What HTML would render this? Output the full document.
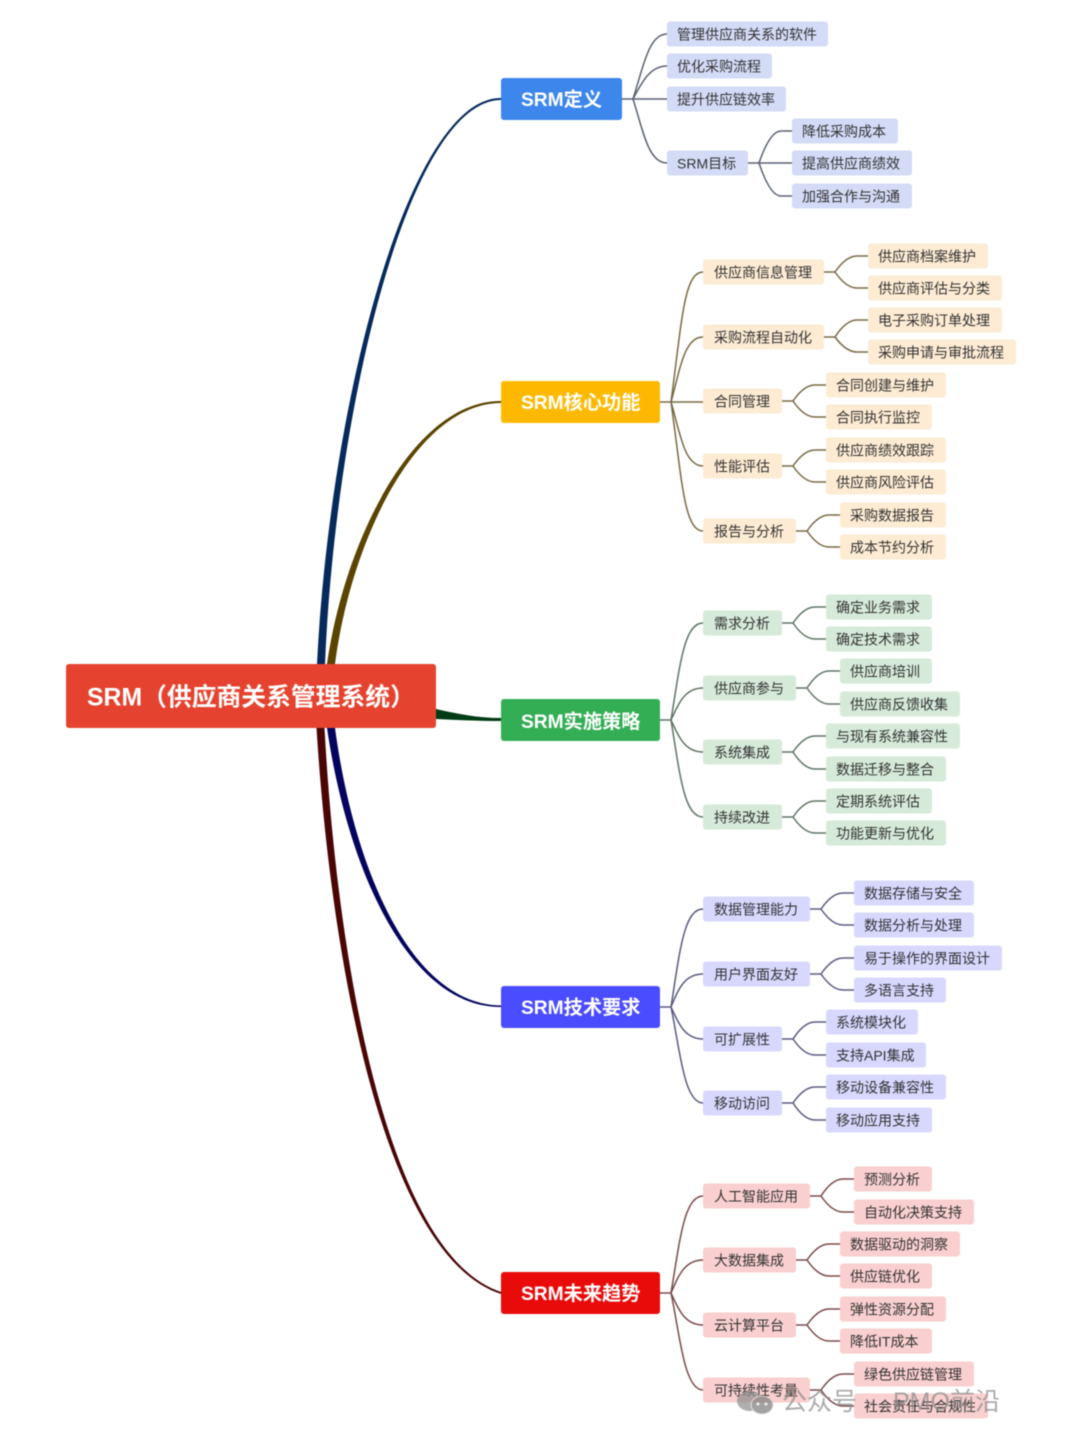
<!DOCTYPE html>
<html lang="zh">
<head>
<meta charset="utf-8">
<title>SRM（供应商关系管理系统）</title>
<style>
html,body{margin:0;padding:0;background:#fff;width:1080px;height:1440px;overflow:hidden}
svg{display:block;filter:blur(.45px)}
text{font-family:"Liberation Sans","Noto Sans CJK SC",sans-serif;font-size:14px;fill:#333}
g[fill] text{transform:translateY(.6px)}
g[fill] text[x="837"],g[fill] text[x="851"],g[fill] text[x="865"],g[fill] text[x="879"]{transform:translate(-1px,.6px)}
.m text{font-size:19.2px;font-weight:700;fill:#fff}
.l{fill:none;stroke-width:1.5}
</style>
</head>
<body>
<svg width="1080" height="1440" viewBox="0 0 1080 1440" xmlns="http://www.w3.org/2000/svg">
<rect width="1080" height="1440" fill="#fff"/>

<!-- main connectors -->
<path fill="#062a5c" d="M317 664C330 399.500 409.500 97.500 501 98L501 100C410.500 100.500 336 400.500 325 664Z"/>
<path fill="#5a4400" d="M327 664C345 539 414 400.500 501 401L501 403C416 403.500 351 541 335 664Z"/>
<path fill="#013c14" d="M436 709C458 714 478 718 501 718L501 721C478 721 458 720 436 719Z"/>
<path fill="#04045e" d="M335 728C354 869 411 1004.500 501 1005.500L501 1007C409 1007.500 348 871 327 728Z"/>
<path fill="#4a0505" d="M324.500 728C337 959.500 386.500 1254 501 1292L501 1294C383.500 1256 331 960.500 316.500 728Z"/>

<!-- branch 1 connectors -->
<g class="l" stroke="#5a6272">
<path d="M622 99H667"/>
<path d="M633 99C645 60 650 34 667 34"/>
<path d="M633 99C642 82 650 66 667 66"/>
<path d="M633 99C643 130 648 163 667 163"/>
<path d="M748 163H792"/>
<path d="M759 163Q770 131 781 131H792"/>
<path d="M759 163Q770 196 781 196H792"/>
</g>
<!-- branch 2 connectors -->
<g class="l" stroke="#7a6a45">
<path d="M660 402H703"/>
<path d="M671 402C682 320 684 272 703 272"/>
<path d="M671 402C680 370 684 337 703 337"/>
<path d="M671 402C680 432 684 466 703 466"/>
<path d="M671 402C682 480 684 531 703 531"/>
<path d="M824 272H835Q846 256 857 256H868"/>
<path d="M835 272Q846 288 857 288H868"/>
<path d="M824 337H835Q846 320 857 320H868"/>
<path d="M835 337Q846 352 857 352H868"/>
<path d="M782 401H793Q804 385 815 385H826"/>
<path d="M793 401Q804 417 815 417H826"/>
<path d="M782 466H793Q804 450 815 450H826"/>
<path d="M793 466Q804 482 815 482H826"/>
<path d="M796 531H807Q818 515 829 515H840"/>
<path d="M807 531Q818 547 829 547H840"/>
</g>
<!-- branch 3 connectors -->
<g class="l" stroke="#5f7565">
<path d="M660 720H671"/>
<path d="M671 720C680 665 684 623 703 623"/>
<path d="M671 720C678 705 684 688 703 688"/>
<path d="M671 720C678 735 684 752 703 752"/>
<path d="M671 720C680 775 684 817 703 817"/>
<path d="M782 623H793Q804 607 815 607H826"/>
<path d="M793 623Q804 639 815 639H826"/>
<path d="M796 688H807Q818 671 829 671H840"/>
<path d="M807 688Q818 704 829 704H840"/>
<path d="M782 752H793Q804 736 815 736H826"/>
<path d="M793 752Q804 769 815 769H826"/>
<path d="M782 817H793Q804 801 815 801H826"/>
<path d="M793 817Q804 833 815 833H826"/>
</g>
<!-- branch 4 connectors -->
<g class="l" stroke="#5a5a80">
<path d="M660 1007H671"/>
<path d="M671 1007C680 950 684 909 703 909"/>
<path d="M671 1007C678 990 684 974 703 974"/>
<path d="M671 1007C678 1022 684 1039 703 1039"/>
<path d="M671 1007C680 1050 684 1103 703 1103"/>
<path d="M810 909H821Q832 893 843 893H854"/>
<path d="M821 909Q832 925 843 925H854"/>
<path d="M810 974H821Q832 958 843 958H854"/>
<path d="M821 974Q832 990 843 990H854"/>
<path d="M782 1039H793Q804 1022 815 1022H826"/>
<path d="M793 1039Q804 1055 815 1055H826"/>
<path d="M782 1103H793Q804 1087 815 1087H826"/>
<path d="M793 1103Q804 1120 815 1120H826"/>
</g>
<!-- branch 5 connectors -->
<g class="l" stroke="#7a4a4a">
<path d="M660 1293H671"/>
<path d="M671 1293C680 1240 684 1196 703 1196"/>
<path d="M671 1293C678 1277 684 1260 703 1260"/>
<path d="M671 1293C678 1308 684 1325 703 1325"/>
<path d="M671 1293C680 1335 684 1390 703 1390"/>
<path d="M810 1196H821Q832 1179 843 1179H854"/>
<path d="M821 1196Q832 1212 843 1212H854"/>
<path d="M796 1260H807Q818 1244 829 1244H840"/>
<path d="M807 1260Q818 1276 829 1276H840"/>
<path d="M796 1325H807Q818 1309 829 1309H840"/>
<path d="M807 1325Q818 1341 829 1341H840"/>
<path d="M810 1390H821Q832 1374 843 1374H854"/>
<path d="M821 1390Q832 1406 843 1406H854"/>
</g>

<!-- root -->
<rect x="66" y="664" width="370" height="64" rx="3" fill="#e5432f"/>
<text x="87" y="705.500" style="font-size:24.800px;font-weight:700;fill:#fff">SRM（供应商关系管理系统）</text>

<!-- main nodes -->
<g class="m">
<rect x="501" y="78" width="121" height="42" rx="3" fill="#3d86ec"/><text x="521" y="106">SRM定义</text>
<rect x="501" y="381" width="159" height="42" rx="3" fill="#fdb902"/><text x="521" y="409">SRM核心功能</text>
<rect x="501" y="699" width="159" height="42" rx="3" fill="#34ae55"/><text x="521" y="728">SRM实施策略</text>
<rect x="501" y="986" width="159" height="42" rx="3" fill="#4a4cff"/><text x="521" y="1014">SRM技术要求</text>
<rect x="501" y="1272" width="159" height="42" rx="3" fill="#e90a0a"/><text x="521" y="1300">SRM未来趋势</text>
</g>

<!-- branch 1 nodes -->
<g fill="#d4dbf6">
<rect x="667" y="21.500" width="161" height="25" rx="3"/><text x="677" y="39">管理供应商关系的软件</text>
<rect x="667" y="53.500" width="105" height="25" rx="3"/><text x="677" y="71">优化采购流程</text>
<rect x="667" y="86.500" width="119" height="25" rx="3"/><text x="677" y="104">提升供应链效率</text>
<rect x="667" y="150.500" width="81" height="25" rx="3"/><text x="677" y="168">SRM目标</text>
<rect x="792" y="118.500" width="106" height="25" rx="3"/><text x="802" y="136">降低采购成本</text>
<rect x="792" y="150.500" width="120" height="25" rx="3"/><text x="802" y="168">提高供应商绩效</text>
<rect x="792" y="183.500" width="120" height="25" rx="3"/><text x="802" y="201">加强合作与沟通</text>
</g>

<!-- branch 2 nodes -->
<g fill="#fdebd3">
<rect x="703" y="259.500" width="121" height="25" rx="3"/><text x="714" y="277">供应商信息管理</text>
<rect x="703" y="324.500" width="121" height="25" rx="3"/><text x="714" y="342">采购流程自动化</text>
<rect x="703" y="388.500" width="79" height="25" rx="3"/><text x="714" y="406">合同管理</text>
<rect x="703" y="453.500" width="79" height="25" rx="3"/><text x="714" y="471">性能评估</text>
<rect x="703" y="518.500" width="93" height="25" rx="3"/><text x="714" y="536">报告与分析</text>
<rect x="868" y="243.500" width="120" height="25" rx="3"/><text x="879" y="261">供应商档案维护</text>
<rect x="868" y="275.500" width="134" height="25" rx="3"/><text x="879" y="293">供应商评估与分类</text>
<rect x="868" y="307.500" width="134" height="25" rx="3"/><text x="879" y="325">电子采购订单处理</text>
<rect x="868" y="339.500" width="148" height="25" rx="3"/><text x="879" y="357">采购申请与审批流程</text>
<rect x="826" y="372.500" width="120" height="25" rx="3"/><text x="837" y="390">合同创建与维护</text>
<rect x="826" y="404.500" width="106" height="25" rx="3"/><text x="837" y="422">合同执行监控</text>
<rect x="826" y="437.500" width="120" height="25" rx="3"/><text x="837" y="455">供应商绩效跟踪</text>
<rect x="826" y="469.500" width="120" height="25" rx="3"/><text x="837" y="487">供应商风险评估</text>
<rect x="840" y="502.500" width="106" height="25" rx="3"/><text x="851" y="520">采购数据报告</text>
<rect x="840" y="534.500" width="106" height="25" rx="3"/><text x="851" y="552">成本节约分析</text>
</g>

<!-- branch 3 nodes -->
<g fill="#d5ead9">
<rect x="703" y="610.500" width="79" height="25" rx="3"/><text x="714" y="628">需求分析</text>
<rect x="703" y="675.500" width="93" height="25" rx="3"/><text x="714" y="693">供应商参与</text>
<rect x="703" y="739.500" width="79" height="25" rx="3"/><text x="714" y="757">系统集成</text>
<rect x="703" y="804.500" width="79" height="25" rx="3"/><text x="714" y="822">持续改进</text>
<rect x="826" y="594.500" width="106" height="25" rx="3"/><text x="837" y="612">确定业务需求</text>
<rect x="826" y="626.500" width="106" height="25" rx="3"/><text x="837" y="644">确定技术需求</text>
<rect x="840" y="658.500" width="92" height="25" rx="3"/><text x="851" y="676">供应商培训</text>
<rect x="840" y="691.500" width="120" height="25" rx="3"/><text x="851" y="709">供应商反馈收集</text>
<rect x="826" y="723.500" width="134" height="25" rx="3"/><text x="837" y="741">与现有系统兼容性</text>
<rect x="826" y="756.500" width="120" height="25" rx="3"/><text x="837" y="774">数据迁移与整合</text>
<rect x="826" y="788.500" width="106" height="25" rx="3"/><text x="837" y="806">定期系统评估</text>
<rect x="826" y="820.500" width="120" height="25" rx="3"/><text x="837" y="838">功能更新与优化</text>
</g>

<!-- branch 4 nodes -->
<g fill="#d8d8ff">
<rect x="703" y="896.500" width="107" height="25" rx="3"/><text x="714" y="914">数据管理能力</text>
<rect x="703" y="961.500" width="107" height="25" rx="3"/><text x="714" y="979">用户界面友好</text>
<rect x="703" y="1026.500" width="79" height="25" rx="3"/><text x="714" y="1044">可扩展性</text>
<rect x="703" y="1090.500" width="79" height="25" rx="3"/><text x="714" y="1108">移动访问</text>
<rect x="854" y="880.500" width="120" height="25" rx="3"/><text x="865" y="898">数据存储与安全</text>
<rect x="854" y="912.500" width="120" height="25" rx="3"/><text x="865" y="930">数据分析与处理</text>
<rect x="854" y="945.500" width="148" height="25" rx="3"/><text x="865" y="963">易于操作的界面设计</text>
<rect x="854" y="977.500" width="92" height="25" rx="3"/><text x="865" y="995">多语言支持</text>
<rect x="826" y="1009.500" width="92" height="25" rx="3"/><text x="837" y="1027">系统模块化</text>
<rect x="826" y="1042.500" width="100" height="25" rx="3"/><text x="837" y="1060">支持API集成</text>
<rect x="826" y="1074.500" width="120" height="25" rx="3"/><text x="837" y="1092">移动设备兼容性</text>
<rect x="826" y="1107.500" width="106" height="25" rx="3"/><text x="837" y="1125">移动应用支持</text>
</g>

<!-- branch 5 nodes -->
<g fill="#f9cfcf">
<rect x="703" y="1183.500" width="107" height="25" rx="3"/><text x="714" y="1201">人工智能应用</text>
<rect x="703" y="1247.500" width="93" height="25" rx="3"/><text x="714" y="1265">大数据集成</text>
<rect x="703" y="1312.500" width="93" height="25" rx="3"/><text x="714" y="1330">云计算平台</text>
<rect x="703" y="1377.500" width="107" height="25" rx="3"/><text x="714" y="1395">可持续性考量</text>
<rect x="854" y="1166.500" width="78" height="25" rx="3"/><text x="865" y="1184">预测分析</text>
<rect x="854" y="1199.500" width="120" height="25" rx="3"/><text x="865" y="1217">自动化决策支持</text>
<rect x="840" y="1231.500" width="120" height="25" rx="3"/><text x="851" y="1249">数据驱动的洞察</text>
<rect x="840" y="1263.500" width="92" height="25" rx="3"/><text x="851" y="1281">供应链优化</text>
<rect x="840" y="1296.500" width="106" height="25" rx="3"/><text x="851" y="1314">弹性资源分配</text>
<rect x="840" y="1328.500" width="92" height="25" rx="3"/><text x="851" y="1346">降低IT成本</text>
<rect x="854" y="1361.500" width="120" height="25" rx="3"/><text x="865" y="1379">绿色供应链管理</text>
<rect x="854" y="1393.500" width="134" height="25" rx="3"/><text x="865" y="1411">社会责任与合规性</text>
</g>

<!-- watermark -->
<g opacity=".72">
<ellipse cx="750" cy="1401" rx="13" ry="10" fill="#8f8f8f"/>
<ellipse cx="762" cy="1405" rx="11" ry="9" fill="#7f7f7f" stroke="#d8d8d8" stroke-width="1"/>
<circle cx="758" cy="1404" r="1.500" fill="#eee"/>
<circle cx="766" cy="1404" r="1.500" fill="#eee"/>
<text x="782" y="1410" style="font-size:25px;fill:#8a8a8a">公众号</text>
<text x="868" y="1410" style="font-size:25px;fill:#8a8a8a">·</text>
<text x="893" y="1410" style="font-size:25px;fill:#8a8a8a">PMO前沿</text>
</g>
</svg>
</body>
</html>
